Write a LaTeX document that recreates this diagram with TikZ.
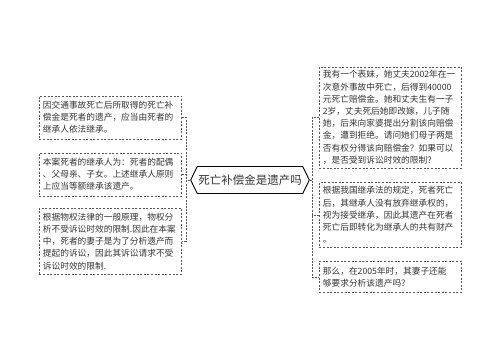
\documentclass[tikz,border=0pt]{standalone}
\usepackage{fontspec}
\newfontfamily\cjk{Noto Sans CJK SC}
\usetikzlibrary{shapes.symbols}
\definecolor{txt}{HTML}{333333}
\definecolor{brd}{HTML}{555555}
\tikzset{
  leaf/.style={draw=brd, line width=0.8pt, dash pattern=on 2pt off 1.6pt, text=txt,
    font=\cjk\fontsize{8.7}{12.2}\selectfont, align=left, text width=135pt,
    inner xsep=3.5pt, inner ysep=0pt, anchor=north west},
  hub/.style={draw=black, line width=0.9pt, shape=signal, signal to=west and east,
    signal pointer angle=128, minimum width=114pt, minimum height=27pt, inner sep=1pt,
    text=txt, font=\cjk\fontsize{11.5}{13}\selectfont},
  link/.style={draw=brd, line width=0.8pt, dash pattern=on 2pt off 1.2pt}
}
\begin{document}
\begin{tikzpicture}[x=1pt,y=-1pt]
\useasboundingbox (0,0) rectangle (500,360);
\node[hub] (c) at (250,180) {死亡补偿金是遗产吗};
% left boxes
\node[leaf, minimum height=43pt] (L1) at (39,95.5) {因交通事故死亡后所取得的死亡补\\偿金是死者的遗产，应当由死者的\\继承人依法继承。};
\node[leaf, minimum height=43pt] (L2) at (39,152.5) {本案死者的继承人为：死者的配偶\\、父母亲、子女。上述继承人原则\\上应当等额继承该遗产。};
\node[leaf, minimum height=66pt] (L3) at (39,208) {根据物权法律的一般原理，物权分\\析不受诉讼时效的限制.因此在本案\\中，死者的妻子是为了分析遗产而\\提起的诉讼，因此其诉讼请求不受\\诉讼时效的限制.};
% right boxes
\node[leaf, minimum height=101pt] (R1) at (319,66.5) {我有一个表妹，她丈夫2002年在一\\次意外事故中死亡，后得到40000\\元死亡赔偿金。她和丈夫生有一子\\2岁，丈夫死后她即改嫁，儿子随\\她，后来向家婆提出分割该向赔偿\\金，遭到拒绝。请问她们母子两是\\否有权分得该向赔偿金？如果可以\\，是否受到诉讼时效的限制？};
\node[leaf, minimum height=65pt] (R2) at (319,182) {根据我国继承法的规定，死者死亡\\后，其继承人没有放弃继承权的，\\视为接受继承，因此其遗产在死者\\死亡后即转化为继承人的共有财产\\。};
\node[leaf, minimum height=31pt] (R3) at (319,261) {那么，在2005年时，其妻子还能\\够要求分析该遗产吗？};
% connectors
\coordinate (lj) at (186,180);
\coordinate (rj) at (312,180);
\draw[link] (c.west) -- (lj);
\draw[link] (L1.east) -| (lj) |- (L3.east);
\draw[link] (L2.east) -- (L2.east -| lj);
\draw[link] (c.east) -- (rj);
\draw[link] (R1.west) -| (rj) |- (R3.west);
\draw[link] (R2.west) -- (R2.west -| rj);
\end{tikzpicture}
\end{document}
